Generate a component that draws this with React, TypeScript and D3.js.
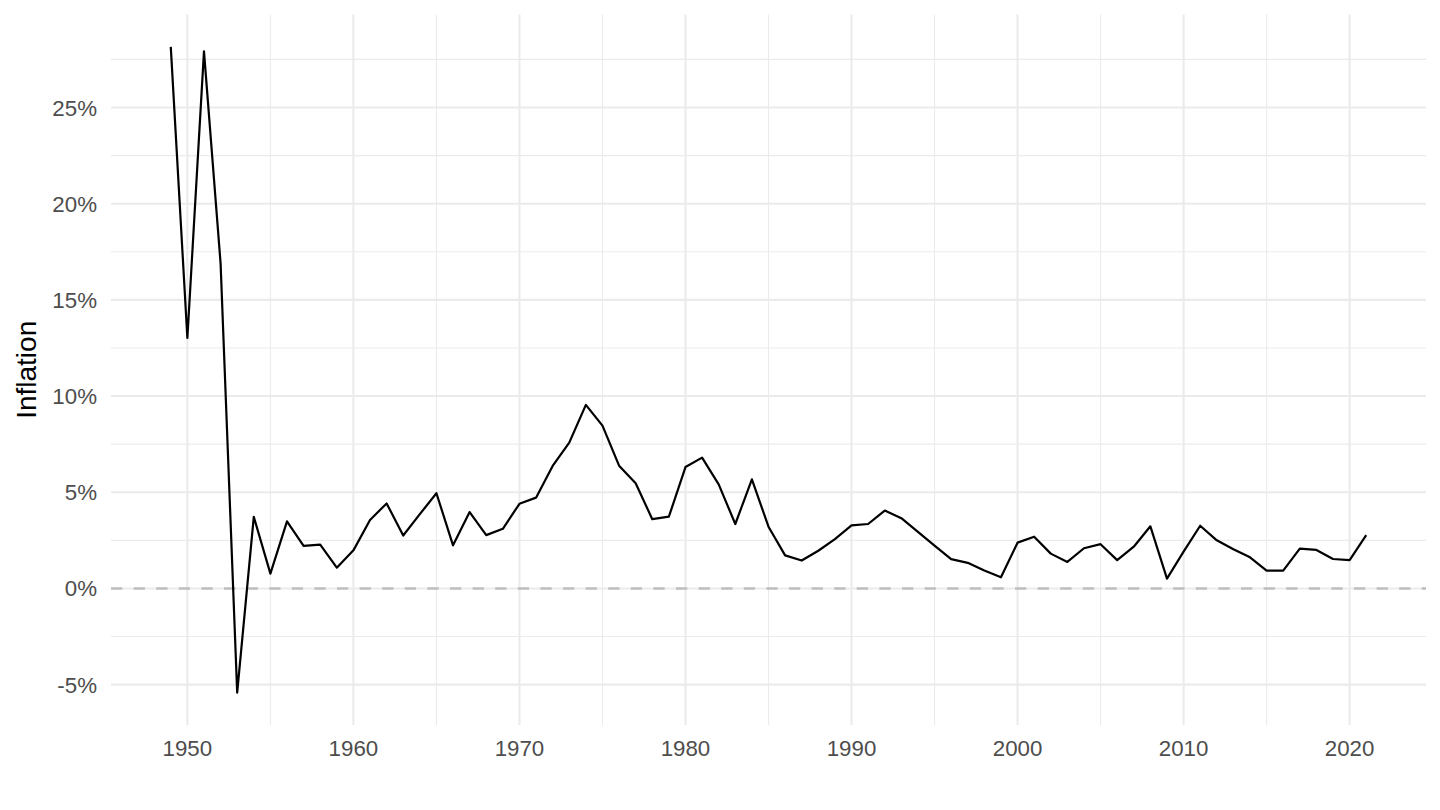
import * as d3 from "d3";

const years = d3.range(1949, 2022);
const inflation = [
  28.15, 13.02, 27.92, 16.9, -5.42, 3.72, 0.77, 3.49, 2.21, 2.28,
  1.08, 1.98, 3.56, 4.42, 2.75, 3.86, 4.95, 2.24, 3.97, 2.77,
  3.1, 4.4, 4.72, 6.37, 7.58, 9.54, 8.46, 6.38, 5.47, 3.6,
  3.73, 6.31, 6.8, 5.41, 3.35, 5.67, 3.21, 1.72, 1.45, 1.96,
  2.56, 3.28, 3.35, 4.05, 3.65, 2.94, 2.23, 1.52, 1.33, 0.93,
  0.58, 2.38, 2.69, 1.81, 1.38, 2.09, 2.3, 1.47, 2.17, 3.23,
  0.51, 1.91, 3.26, 2.5, 2.04, 1.62, 0.93, 0.93, 2.07, 2.0,
  1.53, 1.47, 2.77,
];
const xMajor = [1950, 1960, 1970, 1980, 1990, 2000, 2010, 2020];
const xMinor = [1955, 1965, 1975, 1985, 1995, 2005, 2015];
const yMajor = [-5, 0, 5, 10, 15, 20, 25];
const yMinor = [-2.5, 2.5, 7.5, 12.5, 17.5, 22.5, 27.5];

const W = 1440;
const H = 810;
const panel = { left: 111, right: 1426, top: 14.6, bottom: 725 };

const expand = (lo: number, hi: number) => {
  const p = (hi - lo) * 0.05;
  return [lo - p, hi + p];
};

export default function App() {
  const x = d3
    .scaleLinear()
    .domain(expand(years[0], years[years.length - 1]))
    .range([panel.left, panel.right]);
  const y = d3
    .scaleLinear()
    .domain(expand(d3.min(inflation)!, d3.max(inflation)!))
    .range([panel.bottom, panel.top]);

  const line = d3
    .line<number>()
    .x((_, i) => x(years[i]))
    .y((d) => y(d));

  const font = "'Liberation Sans', Arial, Helvetica, sans-serif";
  const grid = "#EBEBEB";

  return (
    <svg
      width={W}
      height={H}
      style={{ position: "absolute", left: 0, top: 0, background: "#fff" }}
      fontFamily={font}
    >
      {/* minor grid */}
      {yMinor.map((v) => (
        <line key={"ym" + v} x1={panel.left} x2={panel.right} y1={y(v)} y2={y(v)} stroke={grid} strokeWidth={1.1} />
      ))}
      {xMinor.map((v) => (
        <line key={"xm" + v} x1={x(v)} x2={x(v)} y1={panel.top} y2={panel.bottom} stroke={grid} strokeWidth={1.1} />
      ))}
      {/* major grid */}
      {yMajor.map((v) => (
        <line key={"yM" + v} x1={panel.left} x2={panel.right} y1={y(v)} y2={y(v)} stroke={grid} strokeWidth={2.1} />
      ))}
      {xMajor.map((v) => (
        <line key={"xM" + v} x1={x(v)} x2={x(v)} y1={panel.top} y2={panel.bottom} stroke={grid} strokeWidth={2.1} />
      ))}

      {/* zero reference */}
      <line
        x1={panel.left}
        x2={panel.right}
        y1={y(0)}
        y2={y(0)}
        stroke="#BEBEBE"
        strokeWidth={2.6}
        strokeDasharray="11.3 11.3"
      />

      <path d={line(inflation) ?? ""} fill="none" stroke="#000" strokeWidth={2.2} strokeLinejoin="round" />

      {/* y axis labels */}
      {yMajor.map((v) => (
        <text
          key={"yl" + v}
          x={97}
          y={y(v)}
          dy="0.36em"
          textAnchor="end"
          fontSize={22.3}
          fill="#4D4D4D"
        >
          {v + "%"}
        </text>
      ))}
      {/* x axis labels */}
      {xMajor.map((v) => (
        <text key={"xl" + v} x={x(v)} y={756} textAnchor="middle" fontSize={22.3} fill="#4D4D4D">
          {v}
        </text>
      ))}

      <text
        transform={`translate(36,${(panel.top + panel.bottom) / 2}) rotate(-90)`}
        textAnchor="middle"
        fontSize={28}
        fill="#000"
      >
        Inflation
      </text>
    </svg>
  );
}
